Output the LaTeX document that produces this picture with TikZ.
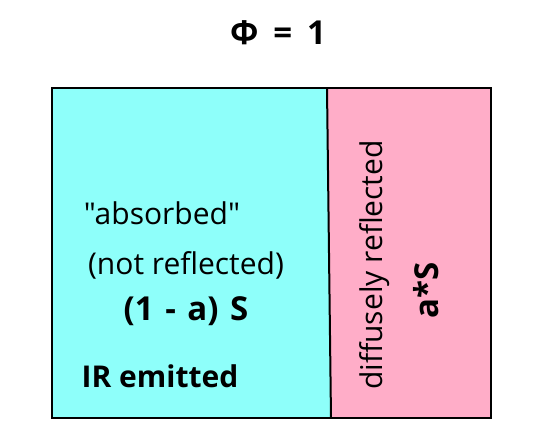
\documentclass[tikz,border=0pt]{standalone}
\usepackage{fontspec}
\setmainfont{Open Sans}[Ligatures=TeXOff]
\usepackage{xcolor}
\definecolor{absorbcyan}{HTML}{8EFFFA}
\definecolor{reflectpink}{HTML}{FFADC8}

\begin{document}
\begin{tikzpicture}[
  x=1pt, y=-1pt,
  band/.style={draw=black, line width=2pt, line join=miter},
  txt/.style={inner sep=0pt, font=\fontsize{30}{36}\selectfont},
  txtb/.style={inner sep=0pt, font=\fontsize{30}{36}\selectfont\bfseries},
  bigb/.style={inner sep=0pt, font=\fontsize{33}{40}\selectfont\bfseries},
]
\useasboundingbox (0,0) rectangle (550,444);

% the two parts of the incoming flux
\fill[absorbcyan] (52,88) -- (327,88) -- (331,418) -- (52,418) -- cycle;
\fill[reflectpink] (327,88) -- (491,88) -- (491,418) -- (331,418) -- cycle;
\draw[band] (52,88) rectangle (491,418);
\draw[band] (327,88) -- (331,418);

\node[bigb] (phi) at (278,33) {Φ\hspace{0.45em}=\hspace{0.45em}1};

\node[txt]  (abs)  at (162,213) {"absorbed"};
\node[txt]  (notr) at (186,265) {(not reflected)};
\node[bigb] (frac) at (186,311) {(1\hspace{0.35em}-\hspace{0.35em}a)\hspace{0.35em}S};
\node[txtb] (ir)   at (160,376) {IR emitted};

\node[txt, rotate=90]  (diff) at (375,265) {diffusely reflected};
\node[bigb, rotate=90] (as)   at (426,290) {a*S};
\end{tikzpicture}
\end{document}
